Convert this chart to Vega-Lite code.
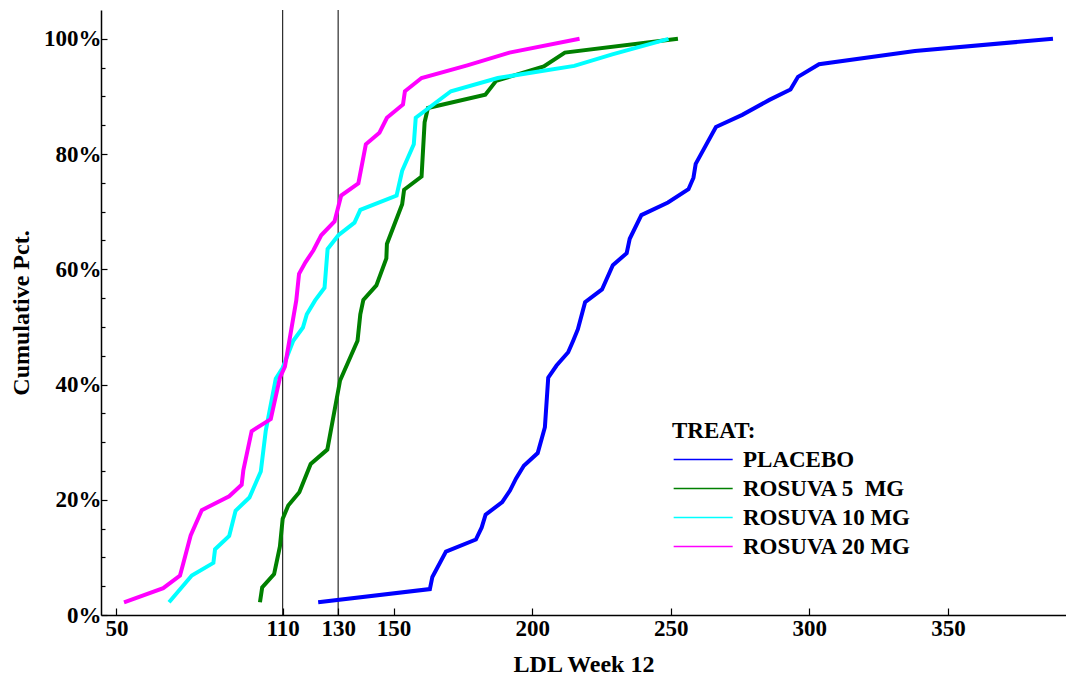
{
  "$schema": "https://vega.github.io/schema/vega-lite/v6.json",
  "width": 965,
  "height": 605,
  "autosize": {"type": "none"},
  "padding": {"left": 101, "top": 10, "right": 0, "bottom": 61},
  "background": "white",
  "config": {
    "view": {"stroke": null},
    "font": "Liberation Serif",
    "axis": {
      "labelFont": "Liberation Serif", "labelFontWeight": "bold", "labelFontSize": 23, "labelColor": "black",
      "titleFont": "Liberation Serif", "titleFontWeight": "bold", "titleFontSize": 24, "titleColor": "black",
      "domainColor": "black", "domainWidth": 1.5, "tickColor": "black", "tickWidth": 1.2, "grid": false
    },
    "legend": {
      "labelFont": "Liberation Serif", "labelFontWeight": "bold", "labelFontSize": 23, "labelColor": "black",
      "titleFont": "Liberation Serif", "titleFontWeight": "bold", "titleFontSize": 23, "titleColor": "black",
      "labelLimit": 400
    }
  },
  "encoding": {
    "x": {
      "field": "ldl", "type": "quantitative",
      "scale": {"domain": [44.45, 392.6], "nice": false, "zero": false},
      "axis": {
        "values": [50, 110, 130, 150, 200, 250, 300, 350], "format": "d",
        "tickSize": -7, "labelPadding": 9, "title": "LDL Week 12", "titlePadding": 12
      }
    }
  },
  "layer": [
    {
      "data": {"values": [{"ldl": 110}, {"ldl": 130}]},
      "mark": {"type": "rule", "color": "black", "strokeWidth": 1}
    },
    {
      "data": {"values": [
        {"treat": "PLACEBO", "ord": 1, "ldl": 122.8, "pct": 0.022},
        {"treat": "PLACEBO", "ord": 2, "ldl": 163.1, "pct": 0.045},
        {"treat": "PLACEBO", "ord": 3, "ldl": 164.0, "pct": 0.066},
        {"treat": "PLACEBO", "ord": 4, "ldl": 168.9, "pct": 0.110},
        {"treat": "PLACEBO", "ord": 5, "ldl": 179.7, "pct": 0.131},
        {"treat": "PLACEBO", "ord": 6, "ldl": 181.8, "pct": 0.152},
        {"treat": "PLACEBO", "ord": 7, "ldl": 183.2, "pct": 0.174},
        {"treat": "PLACEBO", "ord": 8, "ldl": 189.2, "pct": 0.196},
        {"treat": "PLACEBO", "ord": 9, "ldl": 192.0, "pct": 0.216},
        {"treat": "PLACEBO", "ord": 10, "ldl": 194.2, "pct": 0.237},
        {"treat": "PLACEBO", "ord": 11, "ldl": 197.0, "pct": 0.259},
        {"treat": "PLACEBO", "ord": 12, "ldl": 202.0, "pct": 0.281},
        {"treat": "PLACEBO", "ord": 13, "ldl": 204.6, "pct": 0.326},
        {"treat": "PLACEBO", "ord": 14, "ldl": 205.8, "pct": 0.412},
        {"treat": "PLACEBO", "ord": 15, "ldl": 208.8, "pct": 0.433},
        {"treat": "PLACEBO", "ord": 16, "ldl": 213.0, "pct": 0.456},
        {"treat": "PLACEBO", "ord": 17, "ldl": 214.8, "pct": 0.476},
        {"treat": "PLACEBO", "ord": 18, "ldl": 216.5, "pct": 0.496},
        {"treat": "PLACEBO", "ord": 19, "ldl": 219.1, "pct": 0.543},
        {"treat": "PLACEBO", "ord": 20, "ldl": 225.2, "pct": 0.565},
        {"treat": "PLACEBO", "ord": 21, "ldl": 229.1, "pct": 0.607},
        {"treat": "PLACEBO", "ord": 22, "ldl": 234.1, "pct": 0.628},
        {"treat": "PLACEBO", "ord": 23, "ldl": 235.2, "pct": 0.653},
        {"treat": "PLACEBO", "ord": 24, "ldl": 239.4, "pct": 0.694},
        {"treat": "PLACEBO", "ord": 25, "ldl": 249.0, "pct": 0.716},
        {"treat": "PLACEBO", "ord": 26, "ldl": 256.4, "pct": 0.739},
        {"treat": "PLACEBO", "ord": 27, "ldl": 258.2, "pct": 0.759},
        {"treat": "PLACEBO", "ord": 28, "ldl": 259.0, "pct": 0.783},
        {"treat": "PLACEBO", "ord": 29, "ldl": 266.3, "pct": 0.847},
        {"treat": "PLACEBO", "ord": 30, "ldl": 275.8, "pct": 0.868},
        {"treat": "PLACEBO", "ord": 31, "ldl": 285.6, "pct": 0.894},
        {"treat": "PLACEBO", "ord": 32, "ldl": 293.2, "pct": 0.912},
        {"treat": "PLACEBO", "ord": 33, "ldl": 295.9, "pct": 0.934},
        {"treat": "PLACEBO", "ord": 34, "ldl": 303.5, "pct": 0.956},
        {"treat": "PLACEBO", "ord": 35, "ldl": 338.1, "pct": 0.979},
        {"treat": "PLACEBO", "ord": 36, "ldl": 387.9, "pct": 1.0},
        {"treat": "ROSUVA 5  MG", "ord": 1, "ldl": 101.8, "pct": 0.022},
        {"treat": "ROSUVA 5  MG", "ord": 2, "ldl": 102.6, "pct": 0.048},
        {"treat": "ROSUVA 5  MG", "ord": 3, "ldl": 106.9, "pct": 0.071},
        {"treat": "ROSUVA 5  MG", "ord": 4, "ldl": 109.0, "pct": 0.119},
        {"treat": "ROSUVA 5  MG", "ord": 5, "ldl": 110.0, "pct": 0.167},
        {"treat": "ROSUVA 5  MG", "ord": 6, "ldl": 112.0, "pct": 0.190},
        {"treat": "ROSUVA 5  MG", "ord": 7, "ldl": 116.0, "pct": 0.213},
        {"treat": "ROSUVA 5  MG", "ord": 8, "ldl": 120.1, "pct": 0.262},
        {"treat": "ROSUVA 5  MG", "ord": 9, "ldl": 126.1, "pct": 0.287},
        {"treat": "ROSUVA 5  MG", "ord": 10, "ldl": 130.7, "pct": 0.407},
        {"treat": "ROSUVA 5  MG", "ord": 11, "ldl": 137.0, "pct": 0.476},
        {"treat": "ROSUVA 5  MG", "ord": 12, "ldl": 138.0, "pct": 0.522},
        {"treat": "ROSUVA 5  MG", "ord": 13, "ldl": 139.1, "pct": 0.547},
        {"treat": "ROSUVA 5  MG", "ord": 14, "ldl": 143.8, "pct": 0.572},
        {"treat": "ROSUVA 5  MG", "ord": 15, "ldl": 147.4, "pct": 0.619},
        {"treat": "ROSUVA 5  MG", "ord": 16, "ldl": 147.6, "pct": 0.644},
        {"treat": "ROSUVA 5  MG", "ord": 17, "ldl": 153.1, "pct": 0.713},
        {"treat": "ROSUVA 5  MG", "ord": 18, "ldl": 153.8, "pct": 0.738},
        {"treat": "ROSUVA 5  MG", "ord": 19, "ldl": 160.1, "pct": 0.761},
        {"treat": "ROSUVA 5  MG", "ord": 20, "ldl": 161.2, "pct": 0.855},
        {"treat": "ROSUVA 5  MG", "ord": 21, "ldl": 162.4, "pct": 0.880},
        {"treat": "ROSUVA 5  MG", "ord": 22, "ldl": 183.1, "pct": 0.903},
        {"treat": "ROSUVA 5  MG", "ord": 23, "ldl": 187.0, "pct": 0.927},
        {"treat": "ROSUVA 5  MG", "ord": 24, "ldl": 204.2, "pct": 0.952},
        {"treat": "ROSUVA 5  MG", "ord": 25, "ldl": 211.8, "pct": 0.976},
        {"treat": "ROSUVA 5  MG", "ord": 26, "ldl": 252.6, "pct": 1.0},
        {"treat": "ROSUVA 10 MG", "ord": 1, "ldl": 69.0, "pct": 0.022},
        {"treat": "ROSUVA 10 MG", "ord": 2, "ldl": 77.2, "pct": 0.0685},
        {"treat": "ROSUVA 10 MG", "ord": 3, "ldl": 85.0, "pct": 0.0905},
        {"treat": "ROSUVA 10 MG", "ord": 4, "ldl": 85.6, "pct": 0.114},
        {"treat": "ROSUVA 10 MG", "ord": 5, "ldl": 90.7, "pct": 0.137},
        {"treat": "ROSUVA 10 MG", "ord": 6, "ldl": 93.0, "pct": 0.181},
        {"treat": "ROSUVA 10 MG", "ord": 7, "ldl": 98.0, "pct": 0.204},
        {"treat": "ROSUVA 10 MG", "ord": 8, "ldl": 102.1, "pct": 0.249},
        {"treat": "ROSUVA 10 MG", "ord": 9, "ldl": 103.9, "pct": 0.320},
        {"treat": "ROSUVA 10 MG", "ord": 10, "ldl": 107.5, "pct": 0.410},
        {"treat": "ROSUVA 10 MG", "ord": 11, "ldl": 110.0, "pct": 0.429},
        {"treat": "ROSUVA 10 MG", "ord": 12, "ldl": 113.8, "pct": 0.476},
        {"treat": "ROSUVA 10 MG", "ord": 13, "ldl": 117.3, "pct": 0.499},
        {"treat": "ROSUVA 10 MG", "ord": 14, "ldl": 118.7, "pct": 0.522},
        {"treat": "ROSUVA 10 MG", "ord": 15, "ldl": 121.7, "pct": 0.546},
        {"treat": "ROSUVA 10 MG", "ord": 16, "ldl": 125.1, "pct": 0.568},
        {"treat": "ROSUVA 10 MG", "ord": 17, "ldl": 126.2, "pct": 0.635},
        {"treat": "ROSUVA 10 MG", "ord": 18, "ldl": 130.1, "pct": 0.659},
        {"treat": "ROSUVA 10 MG", "ord": 19, "ldl": 135.9, "pct": 0.681},
        {"treat": "ROSUVA 10 MG", "ord": 20, "ldl": 138.0, "pct": 0.703},
        {"treat": "ROSUVA 10 MG", "ord": 21, "ldl": 151.1, "pct": 0.728},
        {"treat": "ROSUVA 10 MG", "ord": 22, "ldl": 153.1, "pct": 0.771},
        {"treat": "ROSUVA 10 MG", "ord": 23, "ldl": 157.3, "pct": 0.817},
        {"treat": "ROSUVA 10 MG", "ord": 24, "ldl": 158.0, "pct": 0.863},
        {"treat": "ROSUVA 10 MG", "ord": 25, "ldl": 170.7, "pct": 0.909},
        {"treat": "ROSUVA 10 MG", "ord": 26, "ldl": 187.6, "pct": 0.932},
        {"treat": "ROSUVA 10 MG", "ord": 27, "ldl": 215.2, "pct": 0.953},
        {"treat": "ROSUVA 10 MG", "ord": 28, "ldl": 228.9, "pct": 0.973},
        {"treat": "ROSUVA 10 MG", "ord": 29, "ldl": 249.2, "pct": 1.0},
        {"treat": "ROSUVA 20 MG", "ord": 1, "ldl": 52.75, "pct": 0.022},
        {"treat": "ROSUVA 20 MG", "ord": 2, "ldl": 66.9, "pct": 0.0465},
        {"treat": "ROSUVA 20 MG", "ord": 3, "ldl": 72.95, "pct": 0.0685},
        {"treat": "ROSUVA 20 MG", "ord": 4, "ldl": 74.1, "pct": 0.089},
        {"treat": "ROSUVA 20 MG", "ord": 5, "ldl": 76.8, "pct": 0.138},
        {"treat": "ROSUVA 20 MG", "ord": 6, "ldl": 80.8, "pct": 0.182},
        {"treat": "ROSUVA 20 MG", "ord": 7, "ldl": 90.7, "pct": 0.206},
        {"treat": "ROSUVA 20 MG", "ord": 8, "ldl": 95.2, "pct": 0.226},
        {"treat": "ROSUVA 20 MG", "ord": 9, "ldl": 95.8, "pct": 0.251},
        {"treat": "ROSUVA 20 MG", "ord": 10, "ldl": 98.8, "pct": 0.319},
        {"treat": "ROSUVA 20 MG", "ord": 11, "ldl": 105.7, "pct": 0.340},
        {"treat": "ROSUVA 20 MG", "ord": 12, "ldl": 109.0, "pct": 0.412},
        {"treat": "ROSUVA 20 MG", "ord": 13, "ldl": 110.8, "pct": 0.431},
        {"treat": "ROSUVA 20 MG", "ord": 14, "ldl": 114.9, "pct": 0.546},
        {"treat": "ROSUVA 20 MG", "ord": 15, "ldl": 115.9, "pct": 0.592},
        {"treat": "ROSUVA 20 MG", "ord": 16, "ldl": 118.2, "pct": 0.612},
        {"treat": "ROSUVA 20 MG", "ord": 17, "ldl": 121.1, "pct": 0.633},
        {"treat": "ROSUVA 20 MG", "ord": 18, "ldl": 123.9, "pct": 0.659},
        {"treat": "ROSUVA 20 MG", "ord": 19, "ldl": 128.7, "pct": 0.683},
        {"treat": "ROSUVA 20 MG", "ord": 20, "ldl": 131.1, "pct": 0.728},
        {"treat": "ROSUVA 20 MG", "ord": 21, "ldl": 137.3, "pct": 0.749},
        {"treat": "ROSUVA 20 MG", "ord": 22, "ldl": 140.0, "pct": 0.817},
        {"treat": "ROSUVA 20 MG", "ord": 23, "ldl": 144.9, "pct": 0.837},
        {"treat": "ROSUVA 20 MG", "ord": 24, "ldl": 147.6, "pct": 0.863},
        {"treat": "ROSUVA 20 MG", "ord": 25, "ldl": 153.4, "pct": 0.886},
        {"treat": "ROSUVA 20 MG", "ord": 26, "ldl": 154.1, "pct": 0.909},
        {"treat": "ROSUVA 20 MG", "ord": 27, "ldl": 160.1, "pct": 0.932},
        {"treat": "ROSUVA 20 MG", "ord": 28, "ldl": 176.6, "pct": 0.954},
        {"treat": "ROSUVA 20 MG", "ord": 29, "ldl": 191.8, "pct": 0.976},
        {"treat": "ROSUVA 20 MG", "ord": 30, "ldl": 217.1, "pct": 1.0}
      ]},
      "mark": {"type": "line", "strokeWidth": 4, "clip": true},
      "encoding": {
        "y": {
          "field": "pct", "type": "quantitative",
          "scale": {"domain": [0, 1.05], "nice": false},
          "axis": {
            "values": [0, 0.05, 0.1, 0.15, 0.2, 0.25, 0.3, 0.35, 0.4, 0.45, 0.5, 0.55, 0.6, 0.65, 0.7, 0.75, 0.8, 0.85, 0.9, 0.95, 1.0],
            "labelExpr": "round(datum.value*100) % 20 == 0 ? format(datum.value, '.0%') : ''",
            "tickSize": {"condition": {"test": "round(datum.value*100) % 20 == 0", "value": -6}, "value": -4},
            "labelPadding": 6,
            "title": "Cumulative Pct.", "titlePadding": 10
          }
        },
        "color": {
          "field": "treat", "type": "nominal",
          "scale": {"domain": ["PLACEBO", "ROSUVA 5  MG", "ROSUVA 10 MG", "ROSUVA 20 MG"], "range": ["#0000FF", "#008000", "#00FFFF", "#FF00FF"]},
          "legend": {
            "orient": "none", "legendX": 571, "legendY": 410, "padding": 0,
            "title": "TREAT:", "titlePadding": 5,
            "symbolType": "M-1,0H5", "symbolSize": 387, "symbolStrokeWidth": 1.5,
            "labelOffset": 48, "rowPadding": 5,
            "labelExpr": "replace(datum.label, '  ', '\u00a0 ')"
          }
        },
        "order": {"field": "ord", "type": "quantitative"}
      }
    }
  ]
}
